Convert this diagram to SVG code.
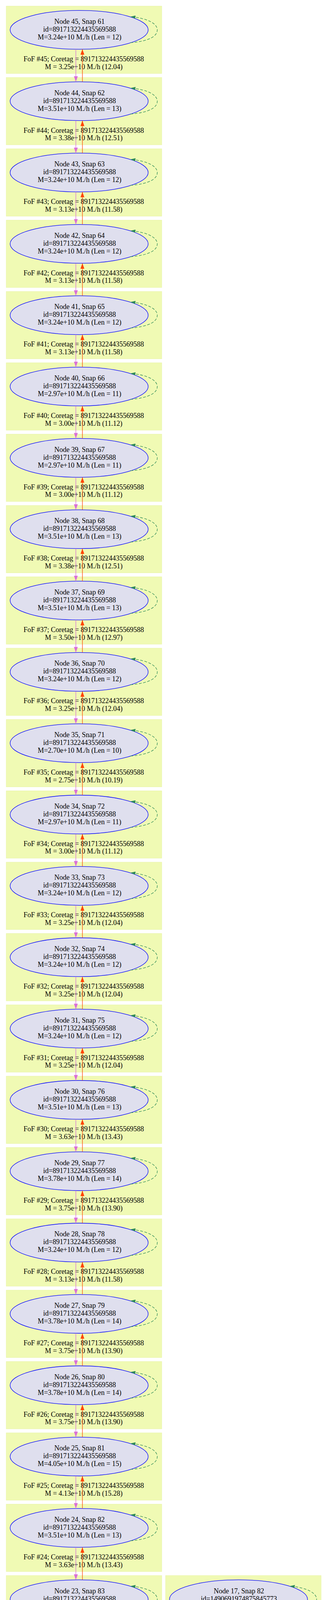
<svg xmlns="http://www.w3.org/2000/svg" xmlns:xlink="http://www.w3.org/1999/xlink" width="837" height="7326" viewBox="0 0 837 7326">
<style>
.cg{fill:#f0fab4;stroke:#e8f4a6;stroke-width:1}
.cy{fill:#f5f8a8;stroke:#eef29a;stroke-width:1}
.co{fill:#fff08c;stroke:#fbe680;stroke-width:1}
.n{fill:#dfdfee;stroke:#0000ff;stroke-width:1.3}
.nd{fill:#d4d4e8;stroke:#0000ff;stroke-width:1.3}
text{font-family:"Liberation Serif","Times New Roman",serif;font-size:18px;fill:#000;text-anchor:middle}
.ep{stroke:#da70d6;stroke-width:1.3;fill:none;marker-end:url(#ap)}
.er{stroke:#ff4500;stroke-width:1.3;fill:none;marker-end:url(#ar)}
.ec{stroke:#00ffff;stroke-width:1.3;fill:none;marker-end:url(#ac)}
</style>
<defs>
<marker id="ap" viewBox="0 0 14 10" refX="14" refY="5" markerWidth="14" markerHeight="10" markerUnits="userSpaceOnUse" orient="auto"><path d="M0,0 L14,5 L0,10 z" fill="#da70d6"/></marker>
<marker id="ar" viewBox="0 0 14 10" refX="14" refY="5" markerWidth="14" markerHeight="10" markerUnits="userSpaceOnUse" orient="auto"><path d="M0,0 L14,5 L0,10 z" fill="#ff4500"/></marker>
<marker id="ac" viewBox="0 0 14 10" refX="14" refY="5" markerWidth="14" markerHeight="10" markerUnits="userSpaceOnUse" orient="auto"><path d="M0,0 L14,5 L0,10 z" fill="#00ffff"/></marker>
<marker id="ag" viewBox="0 0 13 8" refX="13" refY="4" markerWidth="13" markerHeight="8" markerUnits="userSpaceOnUse" orient="auto"><path d="M0,0 L13,4 L0,8 z" fill="#2e8b57"/></marker>
<path id="loop" d="M131,33 C180,29 200,16 200,0 C200,-16 175,-30 131,-33.6" fill="none" stroke="#2e8b57" stroke-width="1.3" stroke-dasharray="7,4" marker-end="url(#ag)"/>
</defs>
<rect width="837" height="7326" fill="#ffffff"/>

<g id="clusters">
<g id="cluster45" transform="translate(202.6,76.4)"><rect class="cg" x="-186.6" y="-60.7" width="398" height="172.4"/><text x="11.7" y="80.5">FoF #45; Coretag = 891713224435569588</text><text x="11.7" y="100.2">M = 3.25e+10 M./h (12.04)</text></g>
<g id="cluster44" transform="translate(202.6,259.02)"><rect class="cg" x="-186.6" y="-60.7" width="398" height="172.4"/><text x="11.7" y="80.5">FoF #44; Coretag = 891713224435569588</text><text x="11.7" y="100.2">M = 3.38e+10 M./h (12.51)</text></g>
<g id="cluster43" transform="translate(202.6,441.64)"><rect class="cg" x="-186.6" y="-60.7" width="398" height="172.4"/><text x="11.7" y="80.5">FoF #43; Coretag = 891713224435569588</text><text x="11.7" y="100.2">M = 3.13e+10 M./h (11.58)</text></g>
<g id="cluster42" transform="translate(202.6,624.26)"><rect class="cg" x="-186.6" y="-60.7" width="398" height="172.4"/><text x="11.7" y="80.5">FoF #42; Coretag = 891713224435569588</text><text x="11.7" y="100.2">M = 3.13e+10 M./h (11.58)</text></g>
<g id="cluster41" transform="translate(202.6,806.88)"><rect class="cg" x="-186.6" y="-60.7" width="398" height="172.4"/><text x="11.7" y="80.5">FoF #41; Coretag = 891713224435569588</text><text x="11.7" y="100.2">M = 3.13e+10 M./h (11.58)</text></g>
<g id="cluster40" transform="translate(202.6,989.5)"><rect class="cg" x="-186.6" y="-60.7" width="398" height="172.4"/><text x="11.7" y="80.5">FoF #40; Coretag = 891713224435569588</text><text x="11.7" y="100.2">M = 3.00e+10 M./h (11.12)</text></g>
<g id="cluster39" transform="translate(202.6,1172.12)"><rect class="cg" x="-186.6" y="-60.7" width="398" height="172.4"/><text x="11.7" y="80.5">FoF #39; Coretag = 891713224435569588</text><text x="11.7" y="100.2">M = 3.00e+10 M./h (11.12)</text></g>
<g id="cluster38" transform="translate(202.6,1354.74)"><rect class="cg" x="-186.6" y="-60.7" width="398" height="172.4"/><text x="11.7" y="80.5">FoF #38; Coretag = 891713224435569588</text><text x="11.7" y="100.2">M = 3.38e+10 M./h (12.51)</text></g>
<g id="cluster37" transform="translate(202.6,1537.36)"><rect class="cg" x="-186.6" y="-60.7" width="398" height="172.4"/><text x="11.7" y="80.5">FoF #37; Coretag = 891713224435569588</text><text x="11.7" y="100.2">M = 3.50e+10 M./h (12.97)</text></g>
<g id="cluster36" transform="translate(202.6,1719.98)"><rect class="cg" x="-186.6" y="-60.7" width="398" height="172.4"/><text x="11.7" y="80.5">FoF #36; Coretag = 891713224435569588</text><text x="11.7" y="100.2">M = 3.25e+10 M./h (12.04)</text></g>
<g id="cluster35" transform="translate(202.6,1902.6)"><rect class="cg" x="-186.6" y="-60.7" width="398" height="172.4"/><text x="11.7" y="80.5">FoF #35; Coretag = 891713224435569588</text><text x="11.7" y="100.2">M = 2.75e+10 M./h (10.19)</text></g>
<g id="cluster34" transform="translate(202.6,2085.22)"><rect class="cg" x="-186.6" y="-60.7" width="398" height="172.4"/><text x="11.7" y="80.5">FoF #34; Coretag = 891713224435569588</text><text x="11.7" y="100.2">M = 3.00e+10 M./h (11.12)</text></g>
<g id="cluster33" transform="translate(202.6,2267.84)"><rect class="cg" x="-186.6" y="-60.7" width="398" height="172.4"/><text x="11.7" y="80.5">FoF #33; Coretag = 891713224435569588</text><text x="11.7" y="100.2">M = 3.25e+10 M./h (12.04)</text></g>
<g id="cluster32" transform="translate(202.6,2450.46)"><rect class="cg" x="-186.6" y="-60.7" width="398" height="172.4"/><text x="11.7" y="80.5">FoF #32; Coretag = 891713224435569588</text><text x="11.7" y="100.2">M = 3.25e+10 M./h (12.04)</text></g>
<g id="cluster31" transform="translate(202.6,2633.08)"><rect class="cg" x="-186.6" y="-60.7" width="398" height="172.4"/><text x="11.7" y="80.5">FoF #31; Coretag = 891713224435569588</text><text x="11.7" y="100.2">M = 3.25e+10 M./h (12.04)</text></g>
<g id="cluster30" transform="translate(202.6,2815.7)"><rect class="cg" x="-186.6" y="-60.7" width="398" height="172.4"/><text x="11.7" y="80.5">FoF #30; Coretag = 891713224435569588</text><text x="11.7" y="100.2">M = 3.63e+10 M./h (13.43)</text></g>
<g id="cluster29" transform="translate(202.6,2998.32)"><rect class="cg" x="-186.6" y="-60.7" width="398" height="172.4"/><text x="11.7" y="80.5">FoF #29; Coretag = 891713224435569588</text><text x="11.7" y="100.2">M = 3.75e+10 M./h (13.90)</text></g>
<g id="cluster28" transform="translate(202.6,3180.94)"><rect class="cg" x="-186.6" y="-60.7" width="398" height="172.4"/><text x="11.7" y="80.5">FoF #28; Coretag = 891713224435569588</text><text x="11.7" y="100.2">M = 3.13e+10 M./h (11.58)</text></g>
<g id="cluster27" transform="translate(202.6,3363.56)"><rect class="cg" x="-186.6" y="-60.7" width="398" height="172.4"/><text x="11.7" y="80.5">FoF #27; Coretag = 891713224435569588</text><text x="11.7" y="100.2">M = 3.75e+10 M./h (13.90)</text></g>
<g id="cluster26" transform="translate(202.6,3546.18)"><rect class="cg" x="-186.6" y="-60.7" width="398" height="172.4"/><text x="11.7" y="80.5">FoF #26; Coretag = 891713224435569588</text><text x="11.7" y="100.2">M = 3.75e+10 M./h (13.90)</text></g>
<g id="cluster25" transform="translate(202.6,3728.8)"><rect class="cg" x="-186.6" y="-60.7" width="398" height="172.4"/><text x="11.7" y="80.5">FoF #25; Coretag = 891713224435569588</text><text x="11.7" y="100.2">M = 4.13e+10 M./h (15.28)</text></g>
<g id="cluster24" transform="translate(202.6,3911.42)"><rect class="cg" x="-186.6" y="-60.7" width="398" height="172.4"/><text x="11.7" y="80.5">FoF #24; Coretag = 891713224435569588</text><text x="11.7" y="100.2">M = 3.63e+10 M./h (13.43)</text></g>
<g id="cluster23" transform="translate(202.6,4094.04)"><rect class="cg" x="-186.6" y="-60.7" width="398" height="172.4"/><text x="11.7" y="80.5">FoF #23; Coretag = 891713224435569588</text><text x="11.7" y="100.2">M = 4.50e+10 M./h (16.67)</text></g>
<g id="cluster22" transform="translate(202.6,4276.66)"><rect class="cg" x="-186.6" y="-60.7" width="398" height="172.4"/><text x="11.7" y="80.5">FoF #22; Coretag = 891713224435569588</text><text x="11.7" y="100.2">M = 4.00e+10 M./h (14.82)</text></g>
<g id="cluster21" transform="translate(202.6,4459.28)"><rect class="cg" x="-186.6" y="-60.7" width="398" height="172.4"/><text x="11.7" y="80.5">FoF #21; Coretag = 891713224435569588</text><text x="11.7" y="100.2">M = 4.13e+10 M./h (15.28)</text></g>
<g id="cluster20" transform="translate(202.6,4641.9)"><rect class="cy" x="-186.6" y="-60.7" width="398" height="172.4"/><text x="11.7" y="80.5">FoF #20; Coretag = 891713224435569588</text><text x="11.7" y="100.2">M = 7.75e+10 M./h (28.72)</text></g>
<g id="cluster19" transform="translate(202.6,4824.52)"><rect class="cy" x="-186.6" y="-60.7" width="398" height="172.4"/><text x="11.7" y="80.5">FoF #19; Coretag = 891713224435569588</text><text x="11.7" y="100.2">M = 8.25e+10 M./h (30.57)</text></g>
<g id="cluster18" transform="translate(202.6,5007.14)"><rect class="cg" x="-186.6" y="-60.7" width="398" height="172.4"/><text x="11.7" y="80.5">FoF #18; Coretag = 891713224435569588</text><text x="11.7" y="100.2">M = 3.75e+10 M./h (13.90)</text></g>
<g id="cluster17" transform="translate(610.5,4094.04)"><rect class="cg" x="-186.6" y="-60.7" width="398" height="172.4"/><text x="11.7" y="80.5">FoF #17; Coretag = 1490691974875845773</text><text x="11.7" y="100.2">M = 2.63e+10 M./h (9.73)</text></g>
<g id="cluster16" transform="translate(610.5,4276.66)"><rect class="cg" x="-186.6" y="-60.7" width="398" height="172.4"/><text x="11.7" y="80.5">FoF #16; Coretag = 1490691974875845773</text><text x="11.7" y="100.2">M = 2.75e+10 M./h (10.19)</text></g>
<g id="cluster15" transform="translate(610.5,4459.28)"><rect class="cg" x="-186.6" y="-60.7" width="398" height="172.4"/><text x="11.7" y="80.5">FoF #15; Coretag = 1490691974875845773</text><text x="11.7" y="100.2">M = 2.75e+10 M./h (10.19)</text></g>
<g id="cluster14" transform="translate(610.5,4641.9)"><rect class="cg" x="-186.6" y="-60.7" width="398" height="172.4"/><text x="11.7" y="80.5">FoF #14; Coretag = 1490691974875845773</text><text x="11.7" y="100.2">M = 2.63e+10 M./h (9.73)</text></g>
<g id="cluster13" transform="translate(610.5,4824.52)"><rect class="cy" x="-186.6" y="-60.7" width="398" height="172.4"/><text x="11.7" y="80.5">FoF #13; Coretag = 1490691974875845773</text><text x="11.7" y="100.2">M = 7.75e+10 M./h (28.72)</text></g>
<g id="cluster12" transform="translate(610.5,5007.14)"><rect class="cy" x="-186.6" y="-60.7" width="398" height="172.4"/><text x="11.7" y="80.5">FoF #12; Coretag = 1490691974875845773</text><text x="11.7" y="100.2">M = 8.25e+10 M./h (30.57)</text></g>
<g id="cluster11" transform="translate(416.2,5189.76)"><rect class="cg" x="-186.6" y="-60.7" width="398" height="172.4"/><text x="11.7" y="80.5">FoF #11; Coretag = 1490691974875845773</text><text x="11.7" y="100.2">M = 4.38e+10 M./h (16.21)</text></g>
<g id="cluster10" transform="translate(309,5372.38)"><rect class="co" x="-186.6" y="-60.7" width="398" height="172.4"/><text x="11.7" y="80.5">FoF #10; Coretag = 1490691974875845773</text><text x="11.7" y="100.2">M = 3.91e+11 M./h (144.97)</text></g>
<g id="cluster9" transform="translate(309,5555)"><rect class="co" x="-186.6" y="-60.7" width="398" height="172.4"/><text x="11.7" y="80.5">FoF #9; Coretag = 1490691974875845773</text><text x="11.7" y="100.2">M = 3.95e+11 M./h (146.36)</text></g>
<g id="cluster8" transform="translate(309,5737.62)"><rect class="co" x="-186.6" y="-60.7" width="398" height="172.4"/><text x="11.7" y="80.5">FoF #8; Coretag = 1490691974875845773</text><text x="11.7" y="100.2">M = 3.94e+11 M./h (145.90)</text></g>
<g id="cluster7" transform="translate(309,5920.24)"><rect class="co" x="-186.6" y="-60.7" width="398" height="172.4"/><text x="11.7" y="80.5">FoF #7; Coretag = 1490691974875845773</text><text x="11.7" y="100.2">M = 3.99e+11 M./h (147.75)</text></g>
<g id="cluster6" transform="translate(309,6102.86)"><rect class="co" x="-186.6" y="-60.7" width="398" height="172.4"/><text x="11.7" y="80.5">FoF #6; Coretag = 1490691974875845773</text><text x="11.7" y="100.2">M = 3.96e+11 M./h (146.82)</text></g>
<g id="cluster5" transform="translate(309,6285.48)"><rect class="co" x="-186.6" y="-60.7" width="398" height="172.4"/><text x="11.7" y="80.5">FoF #5; Coretag = 1490691974875845773</text><text x="11.7" y="100.2">M = 3.94e+11 M./h (145.90)</text></g>
<g id="cluster4" transform="translate(309,6468.1)"><rect class="cy" x="-186.6" y="-60.7" width="398" height="172.4"/><text x="11.7" y="80.5">FoF #4; Coretag = 1490691974875845773</text><text x="11.7" y="100.2">M = 7.75e+10 M./h (28.72)</text></g>
<g id="cluster3" transform="translate(309,6650.72)"><rect class="cy" x="-186.6" y="-60.7" width="398" height="172.4"/><text x="11.7" y="80.5">FoF #3; Coretag = 1490691974875845773</text><text x="11.7" y="100.2">M = 7.50e+10 M./h (27.79)</text></g>
<g id="cluster2" transform="translate(309,6833.34)"><rect class="cy" x="-186.6" y="-60.7" width="398" height="172.4"/><text x="11.7" y="80.5">FoF #2; Coretag = 1490691974875845773</text><text x="11.7" y="100.2">M = 7.13e+10 M./h (26.40)</text></g>
<g id="cluster1" transform="translate(309,7015.96)"><rect class="cy" x="-186.6" y="-60.7" width="398" height="172.4"/><text x="11.7" y="80.5">FoF #1; Coretag = 1490691974875845773</text><text x="11.7" y="100.2">M = 7.25e+10 M./h (26.86)</text></g>
<g id="cluster0" transform="translate(309,7198.58)"><rect class="cy" x="-186.6" y="-60.7" width="398" height="172.4"/><text x="11.7" y="80.5">FoF #0; Coretag = 1490691974875845773</text><text x="11.7" y="100.2">M = 7.25e+10 M./h (26.86)</text></g>
</g>

<g id="nodes">
<g id="node45" transform="translate(202.6,76.4)"><ellipse class="n" rx="176.7" ry="49.7"/><text x="1" y="-15.5">Node 45, Snap 61</text><text x="1" y="4.5">id=891713224435569588</text><text x="1" y="24.5">M=3.24e+10 M./h (Len = 12)</text></g>
<g id="node44" transform="translate(202.6,259.02)"><ellipse class="n" rx="176.7" ry="49.7"/><text x="1" y="-15.5">Node 44, Snap 62</text><text x="1" y="4.5">id=891713224435569588</text><text x="1" y="24.5">M=3.51e+10 M./h (Len = 13)</text></g>
<g id="node43" transform="translate(202.6,441.64)"><ellipse class="n" rx="176.7" ry="49.7"/><text x="1" y="-15.5">Node 43, Snap 63</text><text x="1" y="4.5">id=891713224435569588</text><text x="1" y="24.5">M=3.24e+10 M./h (Len = 12)</text></g>
<g id="node42" transform="translate(202.6,624.26)"><ellipse class="n" rx="176.7" ry="49.7"/><text x="1" y="-15.5">Node 42, Snap 64</text><text x="1" y="4.5">id=891713224435569588</text><text x="1" y="24.5">M=3.24e+10 M./h (Len = 12)</text></g>
<g id="node41" transform="translate(202.6,806.88)"><ellipse class="n" rx="176.7" ry="49.7"/><text x="1" y="-15.5">Node 41, Snap 65</text><text x="1" y="4.5">id=891713224435569588</text><text x="1" y="24.5">M=3.24e+10 M./h (Len = 12)</text></g>
<g id="node40" transform="translate(202.6,989.5)"><ellipse class="n" rx="176.7" ry="49.7"/><text x="1" y="-15.5">Node 40, Snap 66</text><text x="1" y="4.5">id=891713224435569588</text><text x="1" y="24.5">M=2.97e+10 M./h (Len = 11)</text></g>
<g id="node39" transform="translate(202.6,1172.12)"><ellipse class="n" rx="176.7" ry="49.7"/><text x="1" y="-15.5">Node 39, Snap 67</text><text x="1" y="4.5">id=891713224435569588</text><text x="1" y="24.5">M=2.97e+10 M./h (Len = 11)</text></g>
<g id="node38" transform="translate(202.6,1354.74)"><ellipse class="n" rx="176.7" ry="49.7"/><text x="1" y="-15.5">Node 38, Snap 68</text><text x="1" y="4.5">id=891713224435569588</text><text x="1" y="24.5">M=3.51e+10 M./h (Len = 13)</text></g>
<g id="node37" transform="translate(202.6,1537.36)"><ellipse class="n" rx="176.7" ry="49.7"/><text x="1" y="-15.5">Node 37, Snap 69</text><text x="1" y="4.5">id=891713224435569588</text><text x="1" y="24.5">M=3.51e+10 M./h (Len = 13)</text></g>
<g id="node36" transform="translate(202.6,1719.98)"><ellipse class="n" rx="176.7" ry="49.7"/><text x="1" y="-15.5">Node 36, Snap 70</text><text x="1" y="4.5">id=891713224435569588</text><text x="1" y="24.5">M=3.24e+10 M./h (Len = 12)</text></g>
<g id="node35" transform="translate(202.6,1902.6)"><ellipse class="n" rx="176.7" ry="49.7"/><text x="1" y="-15.5">Node 35, Snap 71</text><text x="1" y="4.5">id=891713224435569588</text><text x="1" y="24.5">M=2.70e+10 M./h (Len = 10)</text></g>
<g id="node34" transform="translate(202.6,2085.22)"><ellipse class="n" rx="176.7" ry="49.7"/><text x="1" y="-15.5">Node 34, Snap 72</text><text x="1" y="4.5">id=891713224435569588</text><text x="1" y="24.5">M=2.97e+10 M./h (Len = 11)</text></g>
<g id="node33" transform="translate(202.6,2267.84)"><ellipse class="n" rx="176.7" ry="49.7"/><text x="1" y="-15.5">Node 33, Snap 73</text><text x="1" y="4.5">id=891713224435569588</text><text x="1" y="24.5">M=3.24e+10 M./h (Len = 12)</text></g>
<g id="node32" transform="translate(202.6,2450.46)"><ellipse class="n" rx="176.7" ry="49.7"/><text x="1" y="-15.5">Node 32, Snap 74</text><text x="1" y="4.5">id=891713224435569588</text><text x="1" y="24.5">M=3.24e+10 M./h (Len = 12)</text></g>
<g id="node31" transform="translate(202.6,2633.08)"><ellipse class="n" rx="176.7" ry="49.7"/><text x="1" y="-15.5">Node 31, Snap 75</text><text x="1" y="4.5">id=891713224435569588</text><text x="1" y="24.5">M=3.24e+10 M./h (Len = 12)</text></g>
<g id="node30" transform="translate(202.6,2815.7)"><ellipse class="n" rx="176.7" ry="49.7"/><text x="1" y="-15.5">Node 30, Snap 76</text><text x="1" y="4.5">id=891713224435569588</text><text x="1" y="24.5">M=3.51e+10 M./h (Len = 13)</text></g>
<g id="node29" transform="translate(202.6,2998.32)"><ellipse class="n" rx="176.7" ry="49.7"/><text x="1" y="-15.5">Node 29, Snap 77</text><text x="1" y="4.5">id=891713224435569588</text><text x="1" y="24.5">M=3.78e+10 M./h (Len = 14)</text></g>
<g id="node28" transform="translate(202.6,3180.94)"><ellipse class="n" rx="176.7" ry="49.7"/><text x="1" y="-15.5">Node 28, Snap 78</text><text x="1" y="4.5">id=891713224435569588</text><text x="1" y="24.5">M=3.24e+10 M./h (Len = 12)</text></g>
<g id="node27" transform="translate(202.6,3363.56)"><ellipse class="n" rx="176.7" ry="49.7"/><text x="1" y="-15.5">Node 27, Snap 79</text><text x="1" y="4.5">id=891713224435569588</text><text x="1" y="24.5">M=3.78e+10 M./h (Len = 14)</text></g>
<g id="node26" transform="translate(202.6,3546.18)"><ellipse class="n" rx="176.7" ry="49.7"/><text x="1" y="-15.5">Node 26, Snap 80</text><text x="1" y="4.5">id=891713224435569588</text><text x="1" y="24.5">M=3.78e+10 M./h (Len = 14)</text></g>
<g id="node25" transform="translate(202.6,3728.8)"><ellipse class="n" rx="176.7" ry="49.7"/><text x="1" y="-15.5">Node 25, Snap 81</text><text x="1" y="4.5">id=891713224435569588</text><text x="1" y="24.5">M=4.05e+10 M./h (Len = 15)</text></g>
<g id="node24" transform="translate(202.6,3911.42)"><ellipse class="n" rx="176.7" ry="49.7"/><text x="1" y="-15.5">Node 24, Snap 82</text><text x="1" y="4.5">id=891713224435569588</text><text x="1" y="24.5">M=3.51e+10 M./h (Len = 13)</text></g>
<g id="node23" transform="translate(202.6,4094.04)"><ellipse class="n" rx="176.7" ry="49.7"/><text x="1" y="-15.5">Node 23, Snap 83</text><text x="1" y="4.5">id=891713224435569588</text><text x="1" y="24.5">M=4.59e+10 M./h (Len = 17)</text></g>
<g id="node22" transform="translate(202.6,4276.66)"><ellipse class="n" rx="176.7" ry="49.7"/><text x="1" y="-15.5">Node 22, Snap 84</text><text x="1" y="4.5">id=891713224435569588</text><text x="1" y="24.5">M=4.05e+10 M./h (Len = 15)</text></g>
<g id="node21" transform="translate(202.6,4459.28)"><ellipse class="n" rx="176.7" ry="49.7"/><text x="1" y="-15.5">Node 21, Snap 85</text><text x="1" y="4.5">id=891713224435569588</text><text x="1" y="24.5">M=4.05e+10 M./h (Len = 15)</text></g>
<g id="node20" transform="translate(202.6,4641.9)"><ellipse class="n" rx="176.7" ry="49.7"/><text x="1" y="-15.5">Node 20, Snap 86</text><text x="1" y="4.5">id=891713224435569588</text><text x="1" y="24.5">M=3.51e+10 M./h (Len = 13)</text></g>
<g id="node19" transform="translate(202.6,4824.52)"><ellipse class="n" rx="176.7" ry="49.7"/><text x="1" y="-15.5">Node 19, Snap 87</text><text x="1" y="4.5">id=891713224435569588</text><text x="1" y="24.5">M=3.78e+10 M./h (Len = 14)</text></g>
<g id="node18" transform="translate(202.6,5007.14)"><ellipse class="n" rx="176.7" ry="49.7"/><text x="1" y="-15.5">Node 18, Snap 88</text><text x="1" y="4.5">id=891713224435569588</text><text x="1" y="24.5">M=3.78e+10 M./h (Len = 14)</text></g>
<g id="node17" transform="translate(610.5,4094.04)"><ellipse class="n" rx="176.7" ry="49.7"/><text x="1" y="-15.5">Node 17, Snap 82</text><text x="1" y="4.5">id=1490691974875845773</text><text x="1" y="24.5">M=2.70e+10 M./h (Len = 10)</text></g>
<g id="node16" transform="translate(610.5,4276.66)"><ellipse class="n" rx="176.7" ry="49.7"/><text x="1" y="-15.5">Node 16, Snap 83</text><text x="1" y="4.5">id=1490691974875845773</text><text x="1" y="24.5">M=2.70e+10 M./h (Len = 10)</text></g>
<g id="node15" transform="translate(610.5,4459.28)"><ellipse class="n" rx="176.7" ry="49.7"/><text x="1" y="-15.5">Node 15, Snap 84</text><text x="1" y="4.5">id=1490691974875845773</text><text x="1" y="24.5">M=2.70e+10 M./h (Len = 10)</text></g>
<g id="node14" transform="translate(610.5,4641.9)"><ellipse class="n" rx="176.7" ry="49.7"/><text x="1" y="-15.5">Node 14, Snap 85</text><text x="1" y="4.5">id=1490691974875845773</text><text x="1" y="24.5">M=2.70e+10 M./h (Len = 10)</text></g>
<g id="node13" transform="translate(610.5,4824.52)"><ellipse class="n" rx="176.7" ry="49.7"/><text x="1" y="-15.5">Node 13, Snap 86</text><text x="1" y="4.5">id=1490691974875845773</text><text x="1" y="24.5">M=4.32e+10 M./h (Len = 16)</text></g>
<g id="node12" transform="translate(610.5,5007.14)"><ellipse class="n" rx="176.7" ry="49.7"/><text x="1" y="-15.5">Node 12, Snap 87</text><text x="1" y="4.5">id=1490691974875845773</text><text x="1" y="24.5">M=4.59e+10 M./h (Len = 17)</text></g>
<g id="node11" transform="translate(416.2,5189.76)"><ellipse class="n" rx="176.7" ry="49.7"/><text x="1" y="-15.5">Node 11, Snap 88</text><text x="1" y="4.5">id=1490691974875845773</text><text x="1" y="24.5">M=4.32e+10 M./h (Len = 16)</text></g>
<g id="node10" transform="translate(309,5372.38)"><ellipse class="nd" rx="176.7" ry="49.7"/><text x="1" y="-15.5">Node 10, Snap 89</text><text x="1" y="4.5">id=1490691974875845773</text><text x="1" y="24.5">M=8.10e+10 M./h (Len = 30)</text></g>
<g id="node9" transform="translate(309,5555)"><ellipse class="nd" rx="176.7" ry="49.7"/><text x="1" y="-15.5">Node 9, Snap 90</text><text x="1" y="4.5">id=1490691974875845773</text><text x="1" y="24.5">M=7.83e+10 M./h (Len = 29)</text></g>
<g id="node8" transform="translate(309,5737.62)"><ellipse class="nd" rx="176.7" ry="49.7"/><text x="1" y="-15.5">Node 8, Snap 91</text><text x="1" y="4.5">id=1490691974875845773</text><text x="1" y="24.5">M=7.56e+10 M./h (Len = 28)</text></g>
<g id="node7" transform="translate(309,5920.24)"><ellipse class="nd" rx="176.7" ry="49.7"/><text x="1" y="-15.5">Node 7, Snap 92</text><text x="1" y="4.5">id=1490691974875845773</text><text x="1" y="24.5">M=7.83e+10 M./h (Len = 29)</text></g>
<g id="node6" transform="translate(309,6102.86)"><ellipse class="nd" rx="176.7" ry="49.7"/><text x="1" y="-15.5">Node 6, Snap 93</text><text x="1" y="4.5">id=1490691974875845773</text><text x="1" y="24.5">M=7.29e+10 M./h (Len = 27)</text></g>
<g id="node5" transform="translate(309,6285.48)"><ellipse class="nd" rx="176.7" ry="49.7"/><text x="1" y="-15.5">Node 5, Snap 94</text><text x="1" y="4.5">id=1490691974875845773</text><text x="1" y="24.5">M=7.29e+10 M./h (Len = 27)</text></g>
<g id="node4" transform="translate(309,6468.1)"><ellipse class="nd" rx="176.7" ry="49.7"/><text x="1" y="-15.5">Node 4, Snap 95</text><text x="1" y="4.5">id=1490691974875845773</text><text x="1" y="24.5">M=7.83e+10 M./h (Len = 29)</text></g>
<g id="node3" transform="translate(309,6650.72)"><ellipse class="nd" rx="176.7" ry="49.7"/><text x="1" y="-15.5">Node 3, Snap 96</text><text x="1" y="4.5">id=1490691974875845773</text><text x="1" y="24.5">M=7.56e+10 M./h (Len = 28)</text></g>
<g id="node2" transform="translate(309,6833.34)"><ellipse class="nd" rx="176.7" ry="49.7"/><text x="1" y="-15.5">Node 2, Snap 97</text><text x="1" y="4.5">id=1490691974875845773</text><text x="1" y="24.5">M=7.02e+10 M./h (Len = 26)</text></g>
<g id="node1" transform="translate(309,7015.96)"><ellipse class="nd" rx="176.7" ry="49.7"/><text x="1" y="-15.5">Node 1, Snap 98</text><text x="1" y="4.5">id=1490691974875845773</text><text x="1" y="24.5">M=7.29e+10 M./h (Len = 27)</text></g>
<g id="node0" transform="translate(309,7198.58)"><ellipse class="nd" rx="176.7" ry="49.7"/><text x="1" y="-15.5">Node 0, Snap 99</text><text x="1" y="4.5">id=1490691974875845773</text><text x="1" y="24.5">M=7.29e+10 M./h (Len = 27)</text></g>
</g>

<g id="connectors">
<g id="selfloops">
<use xlink:href="#loop" x="202.6" y="76.4"/><use xlink:href="#loop" x="202.6" y="259.02"/><use xlink:href="#loop" x="202.6" y="441.64"/><use xlink:href="#loop" x="202.6" y="624.26"/><use xlink:href="#loop" x="202.6" y="806.88"/><use xlink:href="#loop" x="202.6" y="989.5"/><use xlink:href="#loop" x="202.6" y="1172.12"/><use xlink:href="#loop" x="202.6" y="1354.74"/><use xlink:href="#loop" x="202.6" y="1537.36"/><use xlink:href="#loop" x="202.6" y="1719.98"/><use xlink:href="#loop" x="202.6" y="1902.6"/><use xlink:href="#loop" x="202.6" y="2085.22"/><use xlink:href="#loop" x="202.6" y="2267.84"/><use xlink:href="#loop" x="202.6" y="2450.46"/><use xlink:href="#loop" x="202.6" y="2633.08"/><use xlink:href="#loop" x="202.6" y="2815.7"/><use xlink:href="#loop" x="202.6" y="2998.32"/><use xlink:href="#loop" x="202.6" y="3180.94"/><use xlink:href="#loop" x="202.6" y="3363.56"/><use xlink:href="#loop" x="202.6" y="3546.18"/><use xlink:href="#loop" x="202.6" y="3728.8"/><use xlink:href="#loop" x="202.6" y="3911.42"/><use xlink:href="#loop" x="202.6" y="4094.04"/><use xlink:href="#loop" x="202.6" y="4276.66"/><use xlink:href="#loop" x="202.6" y="4459.28"/><use xlink:href="#loop" x="202.6" y="4641.9"/><use xlink:href="#loop" x="202.6" y="4824.52"/><use xlink:href="#loop" x="202.6" y="5007.14"/>
<use xlink:href="#loop" x="610.5" y="4094.04"/><use xlink:href="#loop" x="610.5" y="4276.66"/><use xlink:href="#loop" x="610.5" y="4459.28"/><use xlink:href="#loop" x="610.5" y="4641.9"/><use xlink:href="#loop" x="610.5" y="4824.52"/><use xlink:href="#loop" x="610.5" y="5007.14"/>
<use xlink:href="#loop" x="416.2" y="5189.76"/>
<use xlink:href="#loop" x="309" y="5372.38"/><use xlink:href="#loop" x="309" y="5555"/><use xlink:href="#loop" x="309" y="5737.62"/><use xlink:href="#loop" x="309" y="5920.24"/><use xlink:href="#loop" x="309" y="6102.86"/><use xlink:href="#loop" x="309" y="6285.48"/><use xlink:href="#loop" x="309" y="6468.1"/><use xlink:href="#loop" x="309" y="6650.72"/><use xlink:href="#loop" x="309" y="6833.34"/><use xlink:href="#loop" x="309" y="7015.96"/><use xlink:href="#loop" x="309" y="7198.58"/>
</g>
<g id="left-chain">
<line class="ep" x1="194.2" y1="126.1" x2="194.2" y2="209.32"/><line class="er" x1="210.9" y1="209.32" x2="210.9" y2="126.1"/>
<line class="ep" x1="194.2" y1="308.72" x2="194.2" y2="391.94"/><line class="er" x1="210.9" y1="391.94" x2="210.9" y2="308.72"/>
<line class="ep" x1="194.2" y1="491.34" x2="194.2" y2="574.56"/><line class="er" x1="210.9" y1="574.56" x2="210.9" y2="491.34"/>
<line class="ep" x1="194.2" y1="673.96" x2="194.2" y2="757.18"/><line class="er" x1="210.9" y1="757.18" x2="210.9" y2="673.96"/>
<line class="ep" x1="194.2" y1="856.58" x2="194.2" y2="939.8"/><line class="er" x1="210.9" y1="939.8" x2="210.9" y2="856.58"/>
<line class="ep" x1="194.2" y1="1039.2" x2="194.2" y2="1122.42"/><line class="er" x1="210.9" y1="1122.42" x2="210.9" y2="1039.2"/>
<line class="ep" x1="194.2" y1="1221.82" x2="194.2" y2="1305.04"/><line class="er" x1="210.9" y1="1305.04" x2="210.9" y2="1221.82"/>
<line class="ep" x1="194.2" y1="1404.44" x2="194.2" y2="1487.66"/><line class="er" x1="210.9" y1="1487.66" x2="210.9" y2="1404.44"/>
<line class="ep" x1="194.2" y1="1587.06" x2="194.2" y2="1670.28"/><line class="er" x1="210.9" y1="1670.28" x2="210.9" y2="1587.06"/>
<line class="ep" x1="194.2" y1="1769.68" x2="194.2" y2="1852.9"/><line class="er" x1="210.9" y1="1852.9" x2="210.9" y2="1769.68"/>
<line class="ep" x1="194.2" y1="1952.3" x2="194.2" y2="2035.52"/><line class="er" x1="210.9" y1="2035.52" x2="210.9" y2="1952.3"/>
<line class="ep" x1="194.2" y1="2134.92" x2="194.2" y2="2218.14"/><line class="er" x1="210.9" y1="2218.14" x2="210.9" y2="2134.92"/>
<line class="ep" x1="194.2" y1="2317.54" x2="194.2" y2="2400.76"/><line class="er" x1="210.9" y1="2400.76" x2="210.9" y2="2317.54"/>
<line class="ep" x1="194.2" y1="2500.16" x2="194.2" y2="2583.38"/><line class="er" x1="210.9" y1="2583.38" x2="210.9" y2="2500.16"/>
<line class="ep" x1="194.2" y1="2682.78" x2="194.2" y2="2766"/><line class="er" x1="210.9" y1="2766" x2="210.9" y2="2682.78"/>
<line class="ep" x1="194.2" y1="2865.4" x2="194.2" y2="2948.62"/><line class="er" x1="210.9" y1="2948.62" x2="210.9" y2="2865.4"/>
<line class="ep" x1="194.2" y1="3048.02" x2="194.2" y2="3131.24"/><line class="er" x1="210.9" y1="3131.24" x2="210.9" y2="3048.02"/>
<line class="ep" x1="194.2" y1="3230.64" x2="194.2" y2="3313.86"/><line class="er" x1="210.9" y1="3313.86" x2="210.9" y2="3230.64"/>
<line class="ep" x1="194.2" y1="3413.26" x2="194.2" y2="3496.48"/><line class="er" x1="210.9" y1="3496.48" x2="210.9" y2="3413.26"/>
<line class="ep" x1="194.2" y1="3595.88" x2="194.2" y2="3679.1"/><line class="er" x1="210.9" y1="3679.1" x2="210.9" y2="3595.88"/>
<line class="ep" x1="194.2" y1="3778.5" x2="194.2" y2="3861.72"/><line class="er" x1="210.9" y1="3861.72" x2="210.9" y2="3778.5"/>
<line class="ep" x1="194.2" y1="3961.12" x2="194.2" y2="4044.34"/><line class="er" x1="210.9" y1="4044.34" x2="210.9" y2="3961.12"/>
<line class="ep" x1="194.2" y1="4143.74" x2="194.2" y2="4226.96"/><line class="er" x1="210.9" y1="4226.96" x2="210.9" y2="4143.74"/>
<line class="ep" x1="194.2" y1="4326.36" x2="194.2" y2="4409.58"/><line class="er" x1="210.9" y1="4409.58" x2="210.9" y2="4326.36"/>
<line class="ep" x1="194.2" y1="4508.98" x2="194.2" y2="4592.2"/><line class="er" x1="210.9" y1="4592.2" x2="210.9" y2="4508.98"/>
<line class="ep" x1="194.2" y1="4691.6" x2="194.2" y2="4774.82"/><line class="er" x1="210.9" y1="4774.82" x2="210.9" y2="4691.6"/>
<line class="ep" x1="194.2" y1="4874.22" x2="194.2" y2="4957.44"/><line class="er" x1="210.9" y1="4957.44" x2="210.9" y2="4874.22"/>
</g>
<g id="right-chain">
<line class="ep" x1="602.1" y1="4143.74" x2="602.1" y2="4226.96"/><line class="er" x1="618.8" y1="4226.96" x2="618.8" y2="4143.74"/>
<line class="ep" x1="602.1" y1="4326.36" x2="602.1" y2="4409.58"/><line class="er" x1="618.8" y1="4409.58" x2="618.8" y2="4326.36"/>
<line class="ep" x1="602.1" y1="4508.98" x2="602.1" y2="4592.2"/><line class="er" x1="618.8" y1="4592.2" x2="618.8" y2="4508.98"/>
<line class="ep" x1="602.1" y1="4691.6" x2="602.1" y2="4774.82"/><line class="er" x1="618.8" y1="4774.82" x2="618.8" y2="4691.6"/>
<line class="ep" x1="602.1" y1="4874.22" x2="602.1" y2="4957.44"/><line class="er" x1="618.8" y1="4957.44" x2="618.8" y2="4874.22"/>
</g>
<g id="merge">
<line class="ec" x1="360.4" y1="5142.6" x2="259" y2="5054.2"/>
<path class="ep" d="M194.2,5056.8 C189,5150 188,5240 241.9,5326.4"/>
<line class="ep" x1="552.6" y1="5054.1" x2="460.2" y2="5141.6"/>
<line class="er" x1="475.2" y1="5142.9" x2="566" y2="5055.2"/>
<line class="ep" x1="379" y1="5238.4" x2="332" y2="5323.1"/>
<line class="er" x1="347" y1="5323.8" x2="395" y2="5239.1"/>
</g>
<g id="bottom-chain">
<line class="ep" x1="300.6" y1="5422.08" x2="300.6" y2="5505.3"/><line class="er" x1="317.3" y1="5505.3" x2="317.3" y2="5422.08"/>
<line class="ep" x1="300.6" y1="5604.7" x2="300.6" y2="5687.92"/><line class="er" x1="317.3" y1="5687.92" x2="317.3" y2="5604.7"/>
<line class="ep" x1="300.6" y1="5787.32" x2="300.6" y2="5870.54"/><line class="er" x1="317.3" y1="5870.54" x2="317.3" y2="5787.32"/>
<line class="ep" x1="300.6" y1="5969.94" x2="300.6" y2="6053.16"/><line class="er" x1="317.3" y1="6053.16" x2="317.3" y2="5969.94"/>
<line class="ep" x1="300.6" y1="6152.56" x2="300.6" y2="6235.78"/><line class="er" x1="317.3" y1="6235.78" x2="317.3" y2="6152.56"/>
<line class="ep" x1="300.6" y1="6335.18" x2="300.6" y2="6418.4"/><line class="er" x1="317.3" y1="6418.4" x2="317.3" y2="6335.18"/>
<line class="ep" x1="300.6" y1="6517.8" x2="300.6" y2="6601.02"/><line class="er" x1="317.3" y1="6601.02" x2="317.3" y2="6517.8"/>
<line class="ep" x1="300.6" y1="6700.42" x2="300.6" y2="6783.64"/><line class="er" x1="317.3" y1="6783.64" x2="317.3" y2="6700.42"/>
<line class="ep" x1="300.6" y1="6883.04" x2="300.6" y2="6966.26"/><line class="er" x1="317.3" y1="6966.26" x2="317.3" y2="6883.04"/>
<line class="ep" x1="300.6" y1="7065.66" x2="300.6" y2="7148.88"/><line class="er" x1="317.3" y1="7148.88" x2="317.3" y2="7065.66"/>
</g>
</g>
</svg>
